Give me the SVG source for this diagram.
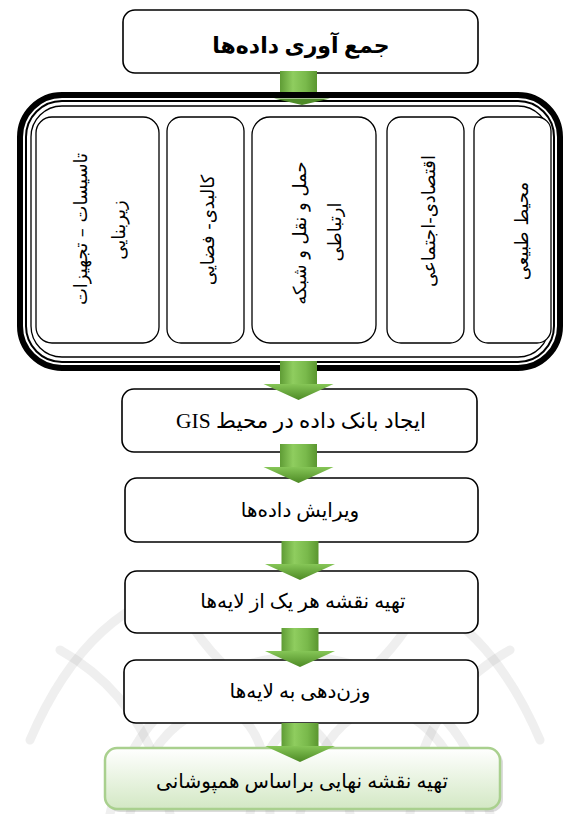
<svg xmlns="http://www.w3.org/2000/svg" xmlns:xlink="http://www.w3.org/1999/xlink" width="566" height="814" viewBox="0 0 566 814">
<style>
.box{fill:#ffffff;stroke:#000000;stroke-width:1.6}
.ibox{fill:#ffffff;stroke:#000000;stroke-width:1.3}
.t{font-family:"Liberation Serif","DejaVu Sans",serif;font-size:20px;fill:#000;text-anchor:middle;direction:rtl;unicode-bidi:embed}
.v{font-family:"DejaVu Sans",sans-serif;font-size:18px;fill:#000;text-anchor:middle;direction:rtl;unicode-bidi:embed}
.wm{fill:none;stroke:#8c8c8c;stroke-width:9;opacity:0.14;stroke-linecap:round}
</style>
<defs>
<linearGradient id="gShaft" x1="0" y1="0" x2="1" y2="0">
<stop offset="0" stop-color="#5f9c35"/>
<stop offset="0.35" stop-color="#8fcd5f"/>
<stop offset="0.7" stop-color="#79b94b"/>
<stop offset="1" stop-color="#5a962f"/>
</linearGradient>
<linearGradient id="gHead" x1="0" y1="0" x2="0" y2="1">
<stop offset="0" stop-color="#86c657"/>
<stop offset="1" stop-color="#4d8a25"/>
</linearGradient>
<linearGradient id="gFinal" x1="0" y1="0" x2="0" y2="1">
<stop offset="0" stop-color="#ffffff"/>
<stop offset="1" stop-color="#d3e8c4"/>
</linearGradient>
<g id="arrow">
<rect x="-18.5" y="0" width="37" height="24" fill="url(#gShaft)"/>
<path d="M-35,23 L35,23 L0,39 Z" fill="url(#gHead)"/>
</g>
</defs>

<rect width="566" height="814" fill="#ffffff"/>

<g id="watermark">
<path class="wm" d="M30,740 Q90,600 200,585"/>
<path class="wm" d="M540,740 Q480,600 370,585"/>
<path class="wm" d="M110,814 Q140,670 300,655 Q460,670 490,814"/>
<path class="wm" d="M170,590 Q230,700 300,700 Q370,700 430,590"/>
<path class="wm" d="M130,814 Q150,720 220,705 Q270,720 270,814"/>
<path class="wm" d="M300,814 Q320,720 380,705 Q450,720 470,814"/>
<path class="wm" d="M250,814 Q260,740 300,720 Q340,740 350,814"/>
<path class="wm" d="M60,650 Q150,700 170,814"/>
<path class="wm" d="M510,650 Q420,700 410,814"/>
</g>

<g id="n-collect">
<rect class="box" x="123" y="10" width="355" height="63" rx="12"/>
<text class="t" x="301" y="53" style="font-weight:bold;font-size:22px">جمع آوری داده&#8204;ها</text>
</g>

<g id="n-categories">
<rect x="20" y="95" width="540" height="273" rx="42" fill="none" stroke="#000" stroke-width="6"/>
<rect x="26" y="101" width="528" height="261" rx="36" fill="none" stroke="#000" stroke-width="2"/>
<rect x="31" y="106" width="518" height="251" rx="31" fill="#fff" stroke="#000" stroke-width="1.3"/>
<g id="n-infra">
<rect class="ibox" x="36" y="117" width="123" height="226" rx="16"/>
<text class="v" transform="translate(87,229) rotate(-90)">تاسیسات – تجهیزات</text>
<text class="v" transform="translate(125,230) rotate(-90)">زیربنایی</text>
</g>
<g id="n-physical">
<rect class="ibox" x="167" y="117" width="77" height="226" rx="14"/>
<text class="v" transform="translate(214,230) rotate(-90)">کالبدی- فضایی</text>
</g>
<g id="n-transport">
<rect class="ibox" x="252" y="117" width="124" height="226" rx="18"/>
<text class="v" transform="translate(306,233) rotate(-90)">حمل و نقل و شبکه</text>
<text class="v" transform="translate(341,232) rotate(-90)">ارتباطی</text>
</g>
<g id="n-socio">
<rect class="ibox" x="387" y="117" width="77" height="226" rx="14"/>
<text class="v" transform="translate(435,221) rotate(-90)">اقتصادی-اجتماعی</text>
</g>
<g id="n-nature">
<rect class="ibox" x="474" y="117" width="77" height="226" rx="14"/>
<text class="v" transform="translate(528,231) rotate(-90)">محیط طبیعی</text>
</g>
</g>

<g id="n-gis">
<rect class="box" x="122" y="389" width="355" height="63" rx="12"/>
<text class="t" x="301" y="428" style="font-size:21.5px">ایجاد بانک داده در محیط GIS</text>
</g>

<g id="n-edit">
<rect class="box" x="125" y="478" width="353" height="64" rx="12"/>
<text class="t" x="300" y="517">ویرایش داده&#8204;ها</text>
</g>

<g id="n-layers">
<rect class="box" x="125" y="571" width="353" height="62" rx="12"/>
<text class="t" x="303" y="608">تهیه نقشه هر یک از لایه&#8204;ها</text>
</g>

<g id="n-weight">
<rect class="box" x="124" y="660" width="354" height="63" rx="12"/>
<text class="t" x="300" y="698">وزن&#8204;دهی به لایه&#8204;ها</text>
</g>

<g id="n-final">
<rect x="108" y="751" width="395" height="61" rx="12" fill="#9a9a9a" opacity="0.35"/>
<rect x="105" y="748" width="395" height="61" rx="12" fill="url(#gFinal)" stroke="#a9d08e" stroke-width="2.5"/>
<text class="t" x="302" y="788">تهیه نقشه نهایی براساس همپوشانی</text>
</g>

<g id="connectors">
<rect x="280" y="71" width="37" height="21" fill="url(#gShaft)"/>
<path d="M274,98.5 L330,98.5 L302,105 Z" fill="#4f8c28"/>
<use xlink:href="#arrow" x="298.5" y="361"/>
<use xlink:href="#arrow" x="298.5" y="444"/>
<use xlink:href="#arrow" x="300" y="541"/>
<use xlink:href="#arrow" x="300" y="628"/>
<use xlink:href="#arrow" x="300" y="723"/>
</g>
</svg>
